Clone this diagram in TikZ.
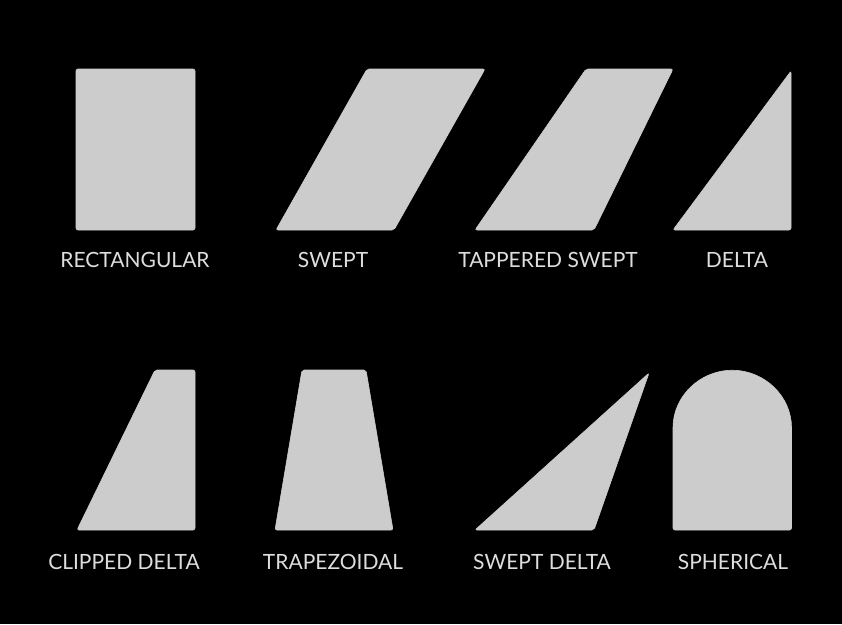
\documentclass[tikz,border=0pt]{standalone}
\usepackage{fontspec}
\setmainfont{Lato}
\definecolor{wingfill}{HTML}{CCCCCC}
\definecolor{wingtext}{HTML}{DDDDDD}
\tikzset{
    wing/.style={fill=wingfill, draw=wingfill, line width=0.6pt, rounded corners=2pt},
    winglabel/.style={text=wingtext, font=\fontsize{21}{25}\selectfont, anchor=base, inner sep=0pt}
}
\begin{document}
\begin{tikzpicture}[x=1pt, y=-1pt]
    \fill[black] (0,0) rectangle (842,624);
    \useasboundingbox (0,0) rectangle (842,624);

    % top row
    \draw[wing] (76,69) rectangle (195,230);
    \node[winglabel] (rectlabel) at (135,267.3) {RECTANGULAR};

    \draw[wing] (276,230) -- (367,69) -- (485,69) -- (394,230) -- cycle;
    \node[winglabel] (sweptlabel) at (333,267.3) {SWEPT};

    \draw[wing] (475,230) -- (586,69) -- (673,69) -- (594,230) -- cycle;
    \node[winglabel] (taperlabel) at (548,267.3) {TAPPERED SWEPT};

    \draw[wing] (673,230) -- (791,71) -- (791,230) -- cycle;
    \node[winglabel] (deltalabel) at (737,267.3) {DELTA};

    % bottom row
    \draw[wing] (77,530) -- (155,370) -- (195,370) -- (195,530) -- cycle;
    \node[winglabel] (clippedlabel) at (124,569) {CLIPPED DELTA};

    \draw[wing] (275,530) -- (302,370) -- (366,370) -- (393,530) -- cycle;
    \node[winglabel] (trapezlabel) at (333,569) {TRAPEZOIDAL};

    \draw[wing] (475,530) -- (649,373) -- (594,530) -- cycle;
    \node[winglabel] (sweptdeltalabel) at (542,569) {SWEPT DELTA};

    \draw[wing] (673,530) -- (673,429.5) arc[start angle=180, end angle=360, radius=59.25] -- (791.5,530) -- cycle;
    \node[winglabel] (sphericallabel) at (733,569) {SPHERICAL};
\end{tikzpicture}
\end{document}
